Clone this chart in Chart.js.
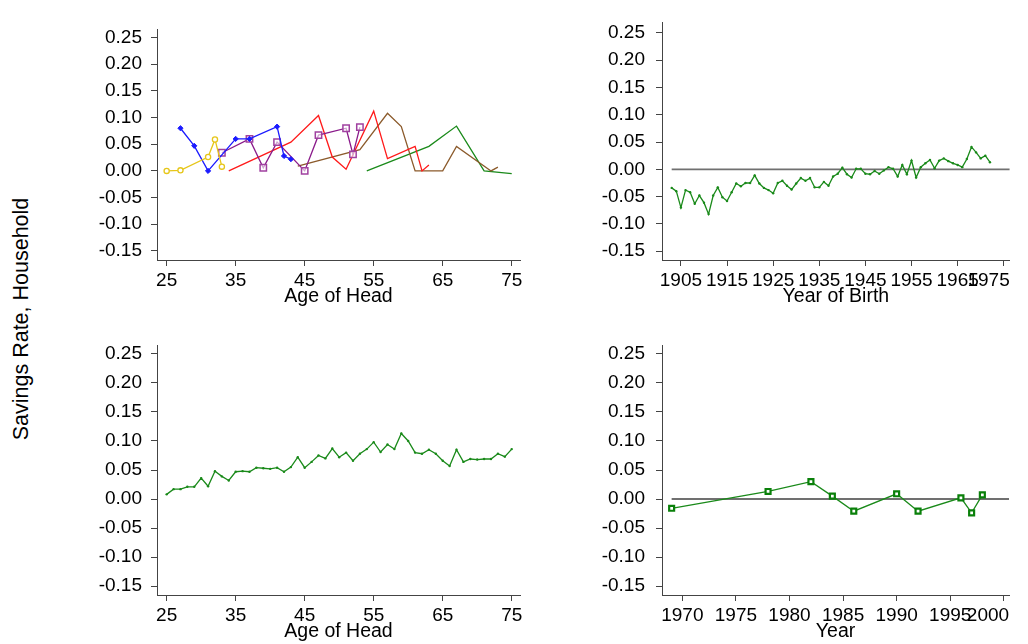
<!DOCTYPE html>
<html>
<head>
<meta charset="utf-8">
<script src="https://cdn.jsdelivr.net/npm/chart.js@4.4.0/dist/chart.umd.min.js"></script>
<style>
  html, body { margin: 0; padding: 0; background: #fff; }
  body { width: 1028px; height: 644px; position: relative; overflow: hidden; font-family: "Liberation Sans", Arial, sans-serif; }
  canvas { position: absolute; }
  #ylab { position: absolute; left: 21px; top: 319px; transform: translate(-50%, -50%) rotate(-90deg); font-size: 21.5px; white-space: nowrap; color: #000; }
</style>
</head>
<body>
<div id="ylab">Savings Rate, Household</div>
<canvas id="topLeft" width="540" height="322" style="left:0;top:0"></canvas>
<canvas id="topRight" width="488" height="322" style="left:540px;top:0"></canvas>
<canvas id="bottomLeft" width="540" height="322" style="left:0;top:322px"></canvas>
<canvas id="bottomRight" width="488" height="322" style="left:540px;top:322px"></canvas>
<script>
// tick labels
const yTicks = [-0.15, -0.10, -0.05, 0.00, 0.05, 0.10, 0.15, 0.20, 0.25];
const ageTicks = [25, 35, 45, 55, 65, 75];
const birthTicks = [1905, 1915, 1925, 1935, 1945, 1955, 1965, 1975];
const yearTicks = [1970, 1975, 1980, 1985, 1990, 1995, 2000];

// top left: cohorts by age of head
const ageYellow = [25, 27, 31, 32, 33];
const rateYellow = [0.000, 0.001, 0.026, 0.059, 0.008];
const ageBlue = [27, 29, 31, 35, 37, 41, 42, 43];
const rateBlue = [0.080, 0.047, 0.000, 0.060, 0.060, 0.083, 0.028, 0.022];
const agePurple = [33, 37, 39, 41, 45, 47, 51, 52, 53];
const ratePurple = [0.034, 0.060, 0.006, 0.054, 0.000, 0.067, 0.080, 0.031, 0.082];
const ageRed = [34, 43, 47, 49, 51, 55, 57, 61, 62, 63];
const rateRed = [0.000, 0.054, 0.104, 0.026, 0.003, 0.112, 0.023, 0.046, 0.000, 0.011];
const ageBrown = [44, 53, 57, 59, 61, 65, 67, 72, 73];
const rateBrown = [0.009, 0.040, 0.108, 0.083, 0.000, 0.000, 0.046, 0.000, 0.007];
const ageGreen = [54, 63, 67, 71, 75];
const rateGreen = [0.000, 0.046, 0.084, 0.000, -0.005];

// top right: year of birth 1903..1972
const births = [1903, 1904, 1905, 1906, 1907, 1908, 1909, 1910, 1911, 1912, 1913, 1914, 1915, 1916, 1917, 1918, 1919, 1920,
  1921, 1922, 1923, 1924, 1925, 1926, 1927, 1928, 1929, 1930, 1931, 1932, 1933, 1934, 1935, 1936, 1937, 1938, 1939, 1940,
  1941, 1942, 1943, 1944, 1945, 1946, 1947, 1948, 1949, 1950, 1951, 1952, 1953, 1954, 1955, 1956, 1957, 1958, 1959, 1960,
  1961, 1962, 1963, 1964, 1965, 1966, 1967, 1968, 1969, 1970, 1971, 1972];
const birthRate = [-0.034, -0.040, -0.070, -0.038, -0.042, -0.063, -0.048, -0.061, -0.082, -0.048, -0.033, -0.051, -0.058,
  -0.042, -0.026, -0.031, -0.025, -0.025, -0.011, -0.026, -0.034, -0.038, -0.044, -0.025, -0.021, -0.030, -0.037, -0.026,
  -0.016, -0.021, -0.016, -0.033, -0.033, -0.023, -0.030, -0.013, -0.008, 0.003, -0.009, -0.015, 0.001, 0.001, -0.008,
  -0.009, -0.003, -0.008, -0.002, 0.004, 0.001, -0.013, 0.008, -0.009, 0.016, -0.015, 0.004, 0.011, 0.017, 0.002, 0.016,
  0.020, 0.015, 0.011, 0.008, 0.004, 0.019, 0.041, 0.031, 0.020, 0.025, 0.013];

// bottom left: age of head 25..75
const ages = [25, 26, 27, 28, 29, 30, 31, 32, 33, 34, 35, 36, 37, 38, 39, 40, 41, 42, 43, 44, 45, 46, 47, 48, 49, 50,
  51, 52, 53, 54, 55, 56, 57, 58, 59, 60, 61, 62, 63, 64, 65, 66, 67, 68, 69, 70, 71, 72, 73, 74, 75];
const ageRate = [0.008, 0.017, 0.017, 0.021, 0.021, 0.036, 0.022, 0.048, 0.039, 0.032, 0.047, 0.048, 0.047, 0.054,
  0.053, 0.052, 0.054, 0.047, 0.055, 0.072, 0.054, 0.064, 0.075, 0.070, 0.087, 0.072, 0.080, 0.066, 0.078, 0.086,
  0.098, 0.081, 0.094, 0.086, 0.113, 0.100, 0.080, 0.078, 0.085, 0.078, 0.066, 0.057, 0.085, 0.064, 0.069, 0.068,
  0.069, 0.069, 0.078, 0.073, 0.086];

// bottom right: survey year
const years = [1969, 1978, 1982, 1984, 1986, 1990, 1992, 1996, 1997, 1998];
const yearRate = [-0.016, 0.013, 0.030, 0.005, -0.021, 0.009, -0.021, 0.002, -0.024, 0.007];

Chart.defaults.font.family = '"Liberation Sans", Arial, sans-serif';
Chart.defaults.font.size = 19;
Chart.defaults.color = '#000';

// last x label is pushed inside the plot edge, like the original
const pinLastLabel = {
  id: 'pinLastLabel',
  beforeDraw(chart, args, opts) {
    if (!opts.on) return;
    const items = chart.scales.x.getLabelItems();
    const last = items[items.length - 1];
    last.options.textAlign = 'right';
    last.options.translation[0] = chart.chartArea.right;
  }
};

function series(xs, ys, style) {
  return Object.assign({
    data: xs.map((x, i) => ({ x: x, y: ys[i] })),
    borderWidth: 1.3,
    tension: 0,
    fill: false,
    pointRadius: 0,
  }, style);
}

function panel(id, p) {
  return new Chart(document.getElementById(id), {
    type: 'line',
    data: { datasets: p.datasets },
    plugins: [pinLastLabel],
    options: {
      responsive: false,
      animation: false,
      events: [],
      layout: { autoPadding: false, padding: { top: p.top, right: p.right, left: 0, bottom: 0 } },
      plugins: { legend: { display: false }, tooltip: { enabled: false }, pinLastLabel: { on: !!p.pin } },
      scales: {
        x: {
          type: 'linear',
          min: p.xMin,
          max: p.xMax,
          afterBuildTicks: (s) => { s.ticks = p.xTicks.map(v => ({ value: v })); },
          afterFit: (s) => { s.height = p.xh; },
          grid: { drawOnChartArea: false, tickLength: 6, color: '#444' },
          border: { color: '#444', width: 1 },
          ticks: { autoSkip: false, maxRotation: 0, minRotation: 0, padding: 3, callback: (v) => String(v) },
          title: { display: true, text: p.xTitle, font: { size: 19.5 }, padding: { top: 0, bottom: p.titlePad } }
        },
        y: {
          min: p.yMin,
          max: p.yMax,
          afterBuildTicks: (s) => { s.ticks = yTicks.map(v => ({ value: v })); },
          afterFit: (s) => { s.width = p.yw; },
          grid: { drawOnChartArea: false, tickLength: 6, color: '#444' },
          border: { color: '#444', width: 1 },
          ticks: { padding: p.yPad, callback: (v) => v.toFixed(2) }
        }
      }
    }
  });
}

panel('topLeft', {
  top: 29, right: 20, yw: 157, xh: 62, yPad: 9, titlePad: 14,
  xMin: 23.6, xMax: 76.2, yMin: -0.167, yMax: 0.266,
  xTicks: ageTicks, xTitle: 'Age of Head',
  datasets: [
    series(ageYellow, rateYellow, { borderColor: '#e6c619', pointRadius: 2.6, pointStyle: 'circle',
      pointBorderColor: '#e6c619', pointBackgroundColor: '#fff', pointBorderWidth: 1.3 }),
    series(ageBlue, rateBlue, { borderColor: '#1a1aff', pointRadius: 2.6, pointStyle: 'rectRot',
      pointBorderColor: '#1a1aff', pointBackgroundColor: '#1a1aff', pointBorderWidth: 1 }),
    series(agePurple, ratePurple, { borderColor: '#8a1a8a', pointRadius: 4.5, pointStyle: 'rect',
      pointBorderColor: '#a040a0', pointBackgroundColor: 'rgba(255,255,255,0.6)', pointBorderWidth: 1.5 }),
    series(ageRed, rateRed, { borderColor: '#ff1a1a' }),
    series(ageBrown, rateBrown, { borderColor: '#8b5a2b' }),
    series(ageGreen, rateGreen, { borderColor: '#1a8a1a' })
  ]
});

panel('topRight', {
  top: 9, right: 6, yw: 122, xh: 62, yPad: 11, titlePad: 14, pin: true,
  xMin: 1900.9, xMax: 1976.3, yMin: -0.166, yMax: 0.269,
  xTicks: birthTicks, xTitle: 'Year of Birth',
  datasets: [
    series(births, birthRate, { borderColor: '#1a8a1a', pointRadius: 1.2, pointBackgroundColor: '#1a8a1a', pointBorderWidth: 0 }),
    series([births[0], 1976.3], [0, 0], { borderColor: '#707070', borderWidth: 1.8 })
  ]
});

panel('bottomLeft', {
  top: 23, right: 20, yw: 157, xh: 49, yPad: 9, titlePad: 1,
  xMin: 23.6, xMax: 76.2, yMin: -0.1655, yMax: 0.2655,
  xTicks: ageTicks, xTitle: 'Age of Head',
  datasets: [
    series(ages, ageRate, { borderColor: '#1a8a1a', pointRadius: 1.2, pointBackgroundColor: '#1a8a1a', pointBorderWidth: 0 })
  ]
});

panel('bottomRight', {
  top: 23, right: 6, yw: 122, xh: 49, yPad: 11, titlePad: 1, pin: true,
  xMin: 1968.1, xMax: 2000.5, yMin: -0.1655, yMax: 0.2655,
  xTicks: yearTicks, xTitle: 'Year',
  datasets: [
    series(years, yearRate, { borderColor: '#1a8a1a', pointRadius: 3.5, pointStyle: 'rect',
      pointBorderColor: '#0a800a', pointBackgroundColor: '#fff', pointBorderWidth: 2.2 }),
    series([years[0], 2000.5], [0, 0], { borderColor: '#707070', borderWidth: 1.8 })
  ]
});
</script>
</body>
</html>
